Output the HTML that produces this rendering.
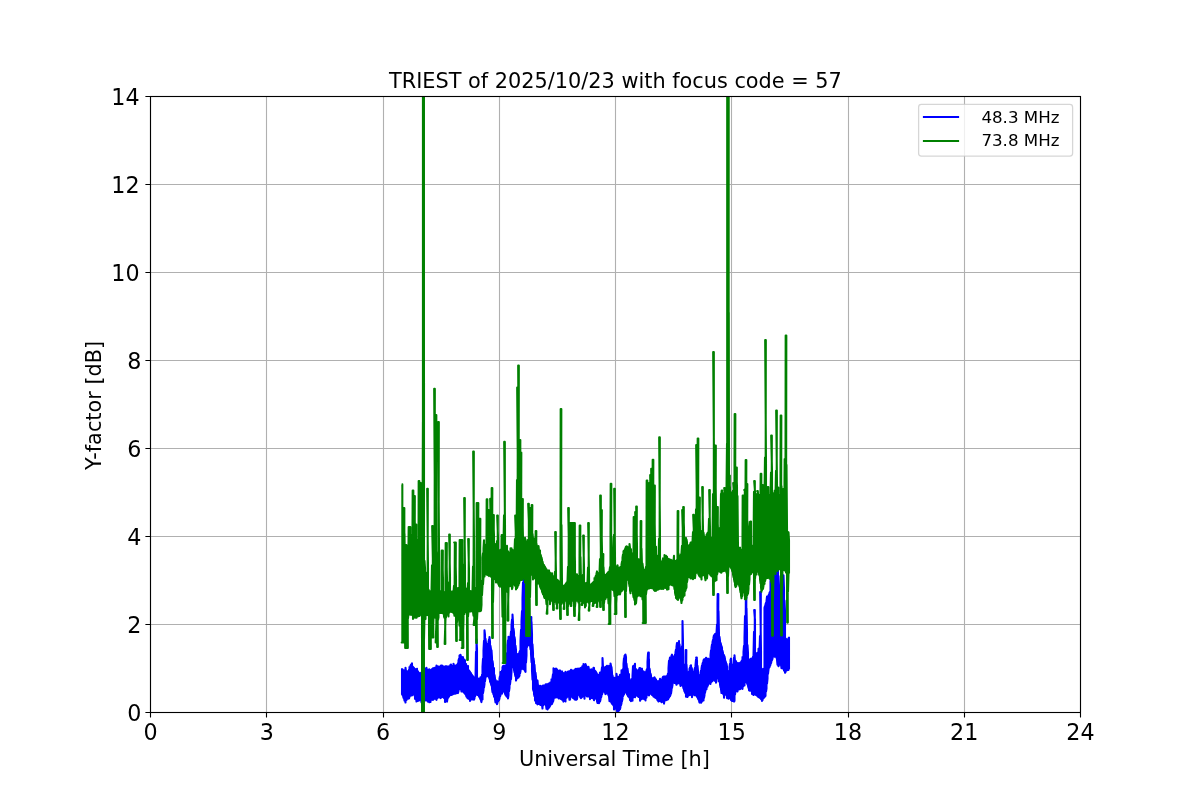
<!DOCTYPE html>
<html><head><meta charset="utf-8"><title>TRIEST of 2025/10/23 with focus code = 57</title>
<style>html,body{margin:0;padding:0;background:#fff;}svg{display:block;}text{font-family:'DejaVu Sans','Liberation Sans',sans-serif;fill:#000;}</style></head><body>
<svg width="1200" height="800" viewBox="0 0 1200 800">
<rect x="0" y="0" width="1200" height="800" fill="#fff"/>
<defs><clipPath id="ax"><rect x="150" y="96" width="930" height="616"/></clipPath></defs>
<path d="M150.50,712.5 V96.5 M266.50,712.5 V96.5 M383.50,712.5 V96.5 M499.50,712.5 V96.5 M615.50,712.5 V96.5 M731.50,712.5 V96.5 M848.50,712.5 V96.5 M964.50,712.5 V96.5 M1080.50,712.5 V96.5 M150.5,712.50 H1080.5 M150.5,624.50 H1080.5 M150.5,536.50 H1080.5 M150.5,448.50 H1080.5 M150.5,360.50 H1080.5 M150.5,272.50 H1080.5 M150.5,184.50 H1080.5 M150.5,96.50 H1080.5" stroke="#b0b0b0" stroke-width="1.11" fill="none"/>
<path d="M150.50,712.5 V717.6 M266.50,712.5 V717.6 M383.50,712.5 V717.6 M499.50,712.5 V717.6 M615.50,712.5 V717.6 M731.50,712.5 V717.6 M848.50,712.5 V717.6 M964.50,712.5 V717.6 M1080.50,712.5 V717.6 M150.5,712.50 H145.4 M150.5,624.50 H145.4 M150.5,536.50 H145.4 M150.5,448.50 H145.4 M150.5,360.50 H145.4 M150.5,272.50 H145.4 M150.5,184.50 H145.4 M150.5,96.50 H145.4" stroke="#000" stroke-width="1.11" fill="none"/>
<g clip-path="url(#ax)" fill="none" stroke-width="2.08" stroke-linejoin="round" stroke-linecap="butt">
<path d="M402.00,668.2 L402.00,694.1 L402.50,694.9 L402.50,669.4 L403.00,670.7 L403.00,695.5 L403.50,697.8 L403.50,670.9 L404.00,670.3 L404.00,697.8 L404.50,700.5 L404.50,670.3 L405.00,670.5 L405.00,699.4 L405.50,702.5 L405.50,667.7 L406.00,671.5 L406.00,700.0 L406.50,699.9 L406.50,672.2 L407.00,672.5 L407.00,698.7 L407.50,698.5 L407.50,671.4 L408.00,672.5 L408.00,698.8 L408.50,698.3 L408.50,671.9 L409.00,669.9 L409.00,698.4 L409.50,696.7 L409.50,667.1 L410.00,667.6 L410.00,695.9 L410.50,695.4 L410.50,665.8 L411.00,664.8 L411.00,695.0 L411.50,693.8 L411.50,664.2 L412.00,663.4 L412.00,695.4 L412.50,693.8 L412.50,666.4 L413.00,667.0 L413.00,693.3 L413.50,694.1 L413.50,667.7 L414.00,668.0 L414.00,694.5 L414.50,695.4 L414.50,668.8 L415.00,669.0 L415.00,698.9 L415.50,699.1 L415.50,669.8 L416.00,670.2 L416.00,698.2 L416.50,701.5 L416.50,670.6 L417.00,668.7 L417.00,697.9 L417.50,697.6 L417.50,671.0 L418.00,671.5 L418.00,700.9 L418.50,698.9 L418.50,672.2 L419.00,673.0 L419.00,700.4 L419.50,699.5 L419.50,673.0 L420.00,673.4 L420.00,699.2 L420.50,699.4 L420.50,673.2 L421.00,673.2 L421.00,699.8 L421.50,702.3 L421.50,672.6 L422.00,672.5 L422.00,699.0 L422.50,699.2 L422.50,671.9 L423.00,671.5 L423.00,699.0 L423.50,698.8 L423.50,670.8 L424.00,670.1 L424.00,699.4 L424.50,699.6 L424.50,668.6 L425.00,670.9 L425.00,699.4 L425.50,699.0 L425.50,668.9 L426.00,670.8 L426.00,700.6 L426.50,698.9 L426.50,667.9 L427.00,670.6 L427.00,698.4 L427.50,698.5 L427.50,670.2 L428.00,670.1 L428.00,701.7 L428.50,698.6 L428.50,669.7 L429.00,669.5 L429.00,698.8 L429.50,702.3 L429.50,669.4 L430.00,670.3 L430.00,699.0 L430.50,701.9 L430.50,670.6 L431.00,670.4 L431.00,699.7 L431.50,699.6 L431.50,669.8 L432.00,669.1 L432.00,699.7 L432.50,699.7 L432.50,668.8 L433.00,668.3 L433.00,699.9 L433.50,699.3 L433.50,668.4 L434.00,668.1 L434.00,698.4 L434.50,698.5 L434.50,668.1 L435.00,667.7 L435.00,698.7 L435.50,698.1 L435.50,668.2 L436.00,667.9 L436.00,698.6 L436.50,699.9 L436.50,665.5 L437.00,666.5 L437.00,698.4 L437.50,697.6 L437.50,666.3 L438.00,666.7 L438.00,697.7 L438.50,697.4 L438.50,666.6 L439.00,666.8 L439.00,697.3 L439.50,697.0 L439.50,667.0 L440.00,666.7 L440.00,696.7 L440.50,698.1 L440.50,666.9 L441.00,665.5 L441.00,697.7 L441.50,696.8 L441.50,666.1 L442.00,665.6 L442.00,696.6 L442.50,697.1 L442.50,665.9 L443.00,666.4 L443.00,696.9 L443.50,697.2 L443.50,666.6 L444.00,666.5 L444.00,698.1 L444.50,697.9 L444.50,666.7 L445.00,666.8 L445.00,702.0 L445.50,698.2 L445.50,666.5 L446.00,666.2 L446.00,701.3 L446.50,698.3 L446.50,666.2 L447.00,666.6 L447.00,701.6 L447.50,698.3 L447.50,666.6 L448.00,666.9 L448.00,697.9 L448.50,697.3 L448.50,666.8 L449.00,666.4 L449.00,696.3 L449.50,695.6 L449.50,666.1 L450.00,665.8 L450.00,694.8 L450.50,695.0 L450.50,664.7 L451.00,664.6 L451.00,695.0 L451.50,695.0 L451.50,666.3 L452.00,665.9 L452.00,694.1 L452.50,694.4 L452.50,665.9 L453.00,666.0 L453.00,694.2 L453.50,693.9 L453.50,663.8 L454.00,666.3 L454.00,693.6 L454.50,693.1 L454.50,666.1 L455.00,665.8 L455.00,693.7 L455.50,693.2 L455.50,665.7 L456.00,665.6 L456.00,693.4 L456.50,693.1 L456.50,665.5 L457.00,664.8 L457.00,692.3 L457.50,692.2 L457.50,664.5 L458.00,663.2 L458.00,693.1 L458.50,690.9 L458.50,660.6 L459.00,658.7 L459.00,689.5 L459.50,688.6 L459.50,655.5 L460.00,656.0 L460.00,687.4 L460.50,688.8 L460.50,654.8 L461.00,656.7 L461.00,689.0 L461.50,691.5 L461.50,657.1 L462.00,657.2 L462.00,689.8 L462.50,690.8 L462.50,658.4 L463.00,657.1 L463.00,691.5 L463.50,691.8 L463.50,659.9 L464.00,661.6 L464.00,692.5 L464.50,693.3 L464.50,659.6 L465.00,660.7 L465.00,693.2 L465.50,694.3 L465.50,663.9 L466.00,663.9 L466.00,695.1 L466.50,696.7 L466.50,666.7 L467.00,667.1 L467.00,697.1 L467.50,698.1 L467.50,668.4 L468.00,665.9 L468.00,698.5 L468.50,698.4 L468.50,670.2 L469.00,670.4 L469.00,698.9 L469.50,698.8 L469.50,671.2 L470.00,671.8 L470.00,701.0 L470.50,699.0 L470.50,672.9 L471.00,673.1 L471.00,698.8 L471.50,699.3 L471.50,674.2 L472.00,675.0 L472.00,698.8 L472.50,699.5 L472.50,675.9 L473.00,676.3 L473.00,699.4 L473.50,699.5 L473.50,677.0 L474.00,678.0 L474.00,699.7 L474.50,698.2 L474.50,678.8 L475.00,679.2 L475.00,696.3 L475.50,695.0 L475.50,679.3 L476.00,651.8 L476.00,693.5 L476.50,694.1 L476.50,639.3 L477.00,649.4 L477.00,694.4 L477.50,695.0 L477.50,679.2 L478.00,678.5 L478.00,695.1 L478.50,695.4 L478.50,678.6 L479.00,678.8 L479.00,696.5 L479.50,697.3 L479.50,679.9 L480.00,680.5 L480.00,698.2 L480.50,699.4 L480.50,677.4 L481.00,681.1 L481.00,700.7 L481.50,702.1 L481.50,681.5 L482.00,674.7 L482.00,698.8 L482.50,699.5 L482.50,666.5 L483.00,658.8 L483.00,693.2 L483.50,690.2 L483.50,650.4 L484.00,640.7 L484.00,687.7 L484.50,684.1 L484.50,630.4 L485.00,634.9 L485.00,681.5 L485.50,677.2 L485.50,638.7 L486.00,643.2 L486.00,675.5 L486.50,676.3 L486.50,646.7 L487.00,650.5 L487.00,674.7 L487.50,675.5 L487.50,643.8 L488.00,644.5 L488.00,675.8 L488.50,676.8 L488.50,641.9 L489.00,639.4 L489.00,677.0 L489.50,679.0 L489.50,637.1 L490.00,641.8 L490.00,681.4 L490.50,682.5 L490.50,645.9 L491.00,649.4 L491.00,683.9 L491.50,685.8 L491.50,650.2 L492.00,657.9 L492.00,688.5 L492.50,692.0 L492.50,661.0 L493.00,664.4 L493.00,692.3 L493.50,694.5 L493.50,667.7 L494.00,668.2 L494.00,696.5 L494.50,697.3 L494.50,675.0 L495.00,678.5 L495.00,699.0 L495.50,702.4 L495.50,679.9 L496.00,681.4 L496.00,699.8 L496.50,700.6 L496.50,682.5 L497.00,683.4 L497.00,704.2 L497.50,702.6 L497.50,681.4 L498.00,684.8 L498.00,701.5 L498.50,700.7 L498.50,685.7 L499.00,683.5 L499.00,700.3 L499.50,698.3 L499.50,678.5 L500.00,676.2 L500.00,696.7 L500.50,694.9 L500.50,672.0 L501.00,673.4 L501.00,694.0 L501.50,692.7 L501.50,672.2 L502.00,670.6 L502.00,693.6 L502.50,689.4 L502.50,667.1 L503.00,666.1 L503.00,688.5 L503.50,689.6 L503.50,665.9 L504.00,665.6 L504.00,690.8 L504.50,692.3 L504.50,666.1 L505.00,665.8 L505.00,693.7 L505.50,694.9 L505.50,665.9 L506.00,665.3 L506.00,695.3 L506.50,696.3 L506.50,659.0 L507.00,653.0 L507.00,696.9 L507.50,697.1 L507.50,645.0 L508.00,640.4 L508.00,698.4 L508.50,695.0 L508.50,636.8 L509.00,639.1 L509.00,691.4 L509.50,687.9 L509.50,637.8 L510.00,637.0 L510.00,684.3 L510.50,680.1 L510.50,637.0 L511.00,631.5 L511.00,679.2 L511.50,671.9 L511.50,625.6 L512.00,619.6 L512.00,667.6 L512.50,663.3 L512.50,614.5 L513.00,622.6 L513.00,665.3 L513.50,667.6 L513.50,628.6 L514.00,632.3 L514.00,669.7 L514.50,672.3 L514.50,637.0 L515.00,640.2 L515.00,674.4 L515.50,676.5 L515.50,645.7 L516.00,650.1 L516.00,680.6 L516.50,678.3 L516.50,653.7 L517.00,657.5 L517.00,678.0 L517.50,678.2 L517.50,657.1 L518.00,655.5 L518.00,677.6 L518.50,677.5 L518.50,653.7 L519.00,653.6 L519.00,676.6 L519.50,675.7 L519.50,652.2 L520.00,650.8 L520.00,673.4 L520.50,671.2 L520.50,640.9 L521.00,629.8 L521.00,669.3 L521.50,666.4 L521.50,621.1 L522.00,611.1 L522.00,663.9 L522.50,664.6 L522.50,598.1 L523.00,582.5 L523.00,669.1 L523.50,667.3 L523.83,578.0 L523.17,578.0 L524.00,584.1 L524.00,668.7 L524.50,669.7 L524.50,602.0 L525.00,608.2 L525.00,670.8 L525.50,671.9 L525.50,614.2 L526.00,619.8 L526.00,662.7 L526.50,655.4 L526.50,626.1 L527.00,626.5 L527.00,647.0 L527.50,644.3 L527.50,626.6 L528.00,625.0 L528.00,644.4 L528.50,644.4 L528.50,628.0 L529.00,628.7 L529.00,645.2 L529.50,645.0 L529.50,626.0 L530.00,623.9 L530.00,644.5 L530.50,649.3 L530.50,621.3 L530.67,617.0 L531.33,617.0 L531.00,653.8 L531.50,662.2 L531.50,621.7 L532.00,634.4 L532.00,670.8 L532.50,679.8 L532.50,644.3 L533.00,652.7 L533.00,689.0 L533.50,691.0 L533.50,658.2 L534.00,662.0 L534.00,694.0 L534.50,696.2 L534.50,664.7 L535.00,672.1 L535.00,700.2 L535.50,701.1 L535.50,672.7 L536.00,677.0 L536.00,703.1 L536.50,702.9 L536.50,679.5 L537.00,681.4 L537.00,703.1 L537.50,704.4 L537.50,680.5 L538.00,686.6 L538.00,703.6 L538.50,703.3 L538.50,685.4 L539.00,686.9 L539.00,703.9 L539.50,704.0 L539.50,686.7 L540.00,686.4 L540.00,704.5 L540.50,705.0 L540.50,685.9 L541.00,686.6 L541.00,704.6 L541.50,704.9 L541.50,686.9 L542.00,686.7 L542.00,704.9 L542.50,708.5 L542.50,686.0 L543.00,685.5 L543.00,705.5 L543.50,704.9 L543.50,685.6 L544.00,686.0 L544.00,704.6 L544.50,704.4 L544.50,686.0 L545.00,685.3 L545.00,704.1 L545.50,704.2 L545.50,684.6 L546.00,684.2 L546.00,705.0 L546.50,708.8 L546.50,684.9 L547.00,685.0 L547.00,706.5 L547.50,709.4 L547.50,684.4 L548.00,684.5 L548.00,708.5 L548.50,708.3 L548.50,683.8 L549.00,683.6 L549.00,707.5 L549.50,706.9 L549.50,683.2 L550.00,683.0 L550.00,705.9 L550.50,705.0 L550.50,682.3 L551.00,682.3 L551.00,704.1 L551.50,703.4 L551.50,679.2 L552.00,681.7 L552.00,703.9 L552.50,701.9 L552.50,677.8 L553.00,674.2 L553.00,701.9 L553.50,699.5 L553.50,668.2 L554.00,670.4 L554.00,698.0 L554.50,697.7 L554.50,670.2 L555.00,669.1 L555.00,694.4 L555.50,695.2 L555.50,669.0 L556.00,668.5 L556.00,697.6 L556.50,695.7 L556.50,669.0 L557.00,669.5 L557.00,696.3 L557.50,696.3 L557.50,670.2 L558.00,670.6 L558.00,697.5 L558.50,698.3 L558.50,670.9 L559.00,671.2 L559.00,698.2 L559.50,698.1 L559.50,672.0 L560.00,670.4 L560.00,697.7 L560.50,698.7 L560.50,672.8 L561.00,672.5 L561.00,698.9 L561.50,699.0 L561.50,672.2 L562.00,671.4 L562.00,699.7 L562.50,699.6 L562.50,672.5 L563.00,672.8 L563.00,700.1 L563.50,701.6 L563.50,673.1 L564.00,673.3 L564.00,698.6 L564.50,698.6 L564.50,673.2 L565.00,673.2 L565.00,699.5 L565.50,701.4 L565.50,671.8 L566.00,673.2 L566.00,697.7 L566.50,697.8 L566.50,673.6 L567.00,673.1 L567.00,697.1 L567.50,696.5 L567.50,672.3 L568.00,671.5 L568.00,696.0 L568.50,695.7 L568.50,671.7 L569.00,671.4 L569.00,695.8 L569.50,699.8 L569.50,671.4 L570.00,671.7 L570.00,699.6 L570.50,696.7 L570.50,672.0 L571.00,669.7 L571.00,696.6 L571.50,696.7 L571.50,670.7 L572.00,670.5 L572.00,696.5 L572.50,696.8 L572.50,670.6 L573.00,670.9 L573.00,697.9 L573.50,698.0 L573.50,670.7 L574.00,670.3 L574.00,698.3 L574.50,699.3 L574.50,670.2 L575.00,669.7 L575.00,699.2 L575.50,699.6 L575.50,668.9 L576.00,669.0 L576.00,698.8 L576.50,699.7 L576.50,668.9 L577.00,668.8 L577.00,699.0 L577.50,695.3 L577.50,668.8 L578.00,668.6 L578.00,694.8 L578.50,694.1 L578.50,668.9 L579.00,668.9 L579.00,694.5 L579.50,695.3 L579.50,668.5 L580.00,668.8 L580.00,696.5 L580.50,697.6 L580.50,668.9 L581.00,667.8 L581.00,698.2 L581.50,697.6 L581.50,667.8 L582.00,667.1 L582.00,697.1 L582.50,696.0 L582.50,666.0 L583.00,666.1 L583.00,695.7 L583.50,694.7 L583.50,664.0 L584.00,665.4 L584.00,694.9 L584.50,698.7 L584.50,664.8 L585.00,664.7 L585.00,695.7 L585.50,695.6 L585.50,664.1 L586.00,665.6 L586.00,695.3 L586.50,695.8 L586.50,666.3 L587.00,667.8 L587.00,696.4 L587.50,696.4 L587.50,669.0 L588.00,669.8 L588.00,695.8 L588.50,695.7 L588.50,666.9 L589.00,669.9 L589.00,696.5 L589.50,696.0 L589.50,669.9 L590.00,669.9 L590.00,699.2 L590.50,695.7 L590.50,669.9 L591.00,669.6 L591.00,695.1 L591.50,697.9 L591.50,669.2 L592.00,669.7 L592.00,693.7 L592.50,694.4 L592.50,669.4 L593.00,670.4 L593.00,698.4 L593.50,698.8 L593.50,667.7 L594.00,667.9 L594.00,700.3 L594.50,696.8 L594.50,670.4 L595.00,670.7 L595.00,697.6 L595.50,697.6 L595.50,671.2 L596.00,672.1 L596.00,698.5 L596.50,699.1 L596.50,672.8 L597.00,674.1 L597.00,701.1 L597.50,703.0 L597.50,674.8 L598.00,674.9 L598.00,700.6 L598.50,700.5 L598.50,675.8 L599.00,675.6 L599.00,703.2 L599.50,701.1 L599.50,674.8 L600.00,672.5 L600.00,701.6 L600.50,699.6 L600.50,674.8 L601.00,673.4 L601.00,697.6 L601.50,695.8 L601.50,671.7 L602.00,667.3 L602.00,694.5 L602.50,692.8 L602.50,658.0 L603.00,667.1 L603.00,691.1 L603.50,691.2 L603.50,671.3 L604.00,671.0 L604.00,691.6 L604.50,691.6 L604.50,670.8 L605.00,667.3 L605.00,692.4 L605.50,694.1 L605.50,666.8 L606.00,669.5 L606.00,693.4 L606.50,693.4 L606.50,668.8 L607.00,665.7 L607.00,693.0 L607.50,693.6 L607.50,668.9 L608.00,669.0 L608.00,693.5 L608.50,695.4 L608.50,668.3 L609.00,665.9 L609.00,696.1 L609.50,701.1 L609.50,666.9 L610.00,665.8 L610.00,700.3 L610.50,701.0 L610.50,663.5 L611.00,666.0 L611.00,701.7 L611.50,702.7 L611.50,667.1 L612.00,672.6 L612.00,703.7 L612.50,704.3 L612.50,675.4 L613.00,677.9 L613.00,704.5 L613.50,705.4 L613.50,678.1 L614.00,678.1 L614.00,709.5 L614.50,706.8 L614.50,677.8 L615.00,677.9 L615.00,707.2 L615.50,708.5 L615.50,678.0 L616.00,677.3 L616.00,708.4 L616.50,709.5 L616.50,673.8 L617.00,677.4 L617.00,711.1 L617.50,711.8 L617.50,677.4 L618.00,677.1 L618.00,714.0 L618.50,710.4 L618.50,676.9 L619.00,676.8 L619.00,710.3 L619.50,709.7 L619.50,676.6 L620.00,674.7 L620.00,709.2 L620.50,706.8 L620.50,675.1 L621.00,674.9 L621.00,705.3 L621.50,703.2 L621.50,670.4 L622.00,672.9 L622.00,701.3 L622.50,698.6 L622.50,671.6 L623.00,669.1 L623.00,696.2 L623.50,694.6 L623.50,663.8 L624.00,658.2 L624.00,694.3 L624.50,691.5 L624.50,656.0 L625.00,655.0 L625.00,689.5 L625.50,691.1 L625.50,654.6 L626.00,657.1 L626.00,692.4 L626.50,692.9 L626.50,663.6 L627.00,668.8 L627.00,694.2 L627.50,695.1 L627.50,668.5 L628.00,672.3 L628.00,696.3 L628.50,696.7 L628.50,674.6 L629.00,674.0 L629.00,696.9 L629.50,697.8 L629.50,678.8 L630.00,681.0 L630.00,700.1 L630.50,698.3 L630.50,680.9 L631.00,681.3 L631.00,701.3 L631.50,699.7 L631.50,681.3 L632.00,678.9 L632.00,700.1 L632.50,700.7 L632.50,675.8 L633.00,666.4 L633.00,697.8 L633.50,697.0 L633.50,665.7 L634.00,665.9 L634.00,696.0 L634.50,695.2 L634.50,667.4 L635.00,663.7 L635.00,697.2 L635.50,694.6 L635.50,668.6 L636.00,669.3 L636.00,694.5 L636.50,694.7 L636.50,670.4 L637.00,670.9 L637.00,695.4 L637.50,695.9 L637.50,670.7 L638.00,670.3 L638.00,696.2 L638.50,697.0 L638.50,669.7 L639.00,669.2 L639.00,697.1 L639.50,697.2 L639.50,668.0 L640.00,668.1 L640.00,700.8 L640.50,697.7 L640.50,668.7 L641.00,669.1 L641.00,698.3 L641.50,699.1 L641.50,669.8 L642.00,668.6 L642.00,698.9 L642.50,698.6 L642.50,671.3 L643.00,671.4 L643.00,698.4 L643.50,698.5 L643.50,671.3 L644.00,672.1 L644.00,699.1 L644.50,699.0 L644.50,672.1 L645.00,672.8 L645.00,698.3 L645.50,700.5 L645.50,673.2 L646.00,671.9 L646.00,696.8 L646.50,697.6 L646.50,670.4 L647.00,669.1 L647.00,693.8 L647.50,694.8 L647.50,662.0 L648.00,653.5 L648.00,691.0 L648.50,691.3 L648.83,652.5 L648.17,652.5 L649.00,660.0 L649.00,695.4 L649.50,692.2 L649.50,668.5 L650.00,671.2 L650.00,692.4 L650.50,692.9 L650.50,673.6 L651.00,675.3 L651.00,693.8 L651.50,694.4 L651.50,677.6 L652.00,679.5 L652.00,694.9 L652.50,695.3 L652.50,679.4 L653.00,678.3 L653.00,695.6 L653.50,696.5 L653.50,678.3 L654.00,677.9 L654.00,696.4 L654.50,697.2 L654.50,677.3 L655.00,678.5 L655.00,697.3 L655.50,697.9 L655.50,679.1 L656.00,679.5 L656.00,698.0 L656.50,698.2 L656.50,680.8 L657.00,681.7 L657.00,698.7 L657.50,700.1 L657.50,681.5 L658.00,681.1 L658.00,700.7 L658.50,701.5 L658.50,681.3 L659.00,681.1 L659.00,701.2 L659.50,700.5 L659.50,681.9 L660.00,678.8 L660.00,700.9 L660.50,700.8 L660.50,682.1 L661.00,682.4 L661.00,701.3 L661.50,702.1 L661.50,680.5 L662.00,679.4 L662.00,701.7 L662.50,701.8 L662.50,678.1 L663.00,676.8 L663.00,701.1 L663.50,702.2 L663.50,676.6 L664.00,676.4 L664.00,703.6 L664.50,700.4 L664.50,676.5 L665.00,677.0 L665.00,700.2 L665.50,700.3 L665.50,676.7 L666.00,676.3 L666.00,700.2 L666.50,699.7 L666.50,676.2 L667.00,676.2 L667.00,699.9 L667.50,699.3 L667.50,675.7 L668.00,673.5 L668.00,699.4 L668.50,698.1 L668.50,668.0 L669.00,660.8 L669.00,697.5 L669.50,696.6 L669.50,660.6 L670.00,657.5 L670.00,696.1 L670.50,694.6 L670.50,659.2 L671.00,658.5 L671.00,693.7 L671.50,690.2 L671.50,655.7 L672.00,654.7 L672.00,687.8 L672.50,684.8 L672.50,657.8 L673.00,656.5 L673.00,682.7 L673.50,682.8 L673.50,659.1 L674.00,659.2 L674.00,682.5 L674.50,682.8 L674.50,657.2 L675.00,654.5 L675.00,682.8 L675.50,683.2 L675.50,652.3 L676.00,649.5 L676.00,682.5 L676.50,684.8 L676.50,646.7 L677.00,643.0 L677.00,682.5 L677.50,683.2 L677.50,645.6 L678.00,643.2 L678.00,683.4 L678.50,683.2 L678.50,644.0 L679.00,641.1 L679.00,682.6 L679.50,682.8 L679.50,644.3 L680.00,649.5 L680.00,683.1 L680.50,685.9 L680.50,659.2 L681.00,663.0 L681.00,683.4 L681.50,684.1 L681.50,661.9 L682.00,646.3 L682.00,684.5 L682.50,685.7 L682.50,621.1 L683.00,642.7 L683.00,686.3 L683.50,688.4 L683.50,664.3 L684.00,669.4 L684.00,689.5 L684.50,691.4 L684.50,668.7 L685.00,666.9 L685.00,692.2 L685.50,693.3 L685.50,657.3 L685.67,650.0 L686.33,650.0 L686.00,696.8 L686.50,695.2 L686.50,664.6 L687.00,673.3 L687.00,695.9 L687.50,697.0 L687.50,673.6 L688.00,675.1 L688.00,695.9 L688.50,695.5 L688.50,673.5 L689.00,671.5 L689.00,695.3 L689.50,694.6 L689.50,668.9 L690.00,667.7 L690.00,694.7 L690.50,694.9 L690.50,665.8 L691.00,665.3 L691.00,695.1 L691.50,694.3 L691.50,667.5 L692.00,669.1 L692.00,697.2 L692.50,693.8 L692.50,671.2 L693.00,673.4 L693.00,693.4 L693.50,693.7 L693.50,673.3 L694.00,671.5 L694.00,693.2 L694.50,695.3 L694.50,669.6 L695.00,667.8 L695.00,695.1 L695.50,693.7 L695.50,665.3 L696.00,659.6 L696.00,694.6 L696.50,695.9 L696.83,657.5 L696.17,657.5 L697.00,660.4 L697.00,696.6 L697.50,697.4 L697.50,665.9 L698.00,671.1 L698.00,698.5 L698.50,699.6 L698.50,676.1 L699.00,680.8 L699.00,700.4 L699.50,702.6 L699.50,678.2 L700.00,674.9 L700.00,701.4 L700.50,702.2 L700.50,673.0 L701.00,670.5 L701.00,702.8 L701.50,702.1 L701.50,668.4 L702.00,665.5 L702.00,701.3 L702.50,700.4 L702.50,663.9 L703.00,662.4 L703.00,700.0 L703.50,700.5 L703.50,660.3 L704.00,659.4 L704.00,697.8 L704.50,695.3 L704.50,659.2 L705.00,659.6 L705.00,692.7 L705.50,690.1 L705.50,659.4 L706.00,657.7 L706.00,687.3 L706.50,689.2 L706.50,659.4 L707.00,659.3 L707.00,686.3 L707.50,686.7 L707.50,658.8 L708.00,658.6 L708.00,685.1 L708.50,683.9 L708.50,658.7 L709.00,660.4 L709.00,682.8 L709.50,682.6 L709.50,662.8 L710.00,659.6 L710.00,682.5 L710.50,683.9 L710.50,655.1 L711.00,650.4 L711.00,682.2 L711.50,681.8 L711.50,647.6 L712.00,644.5 L712.00,681.5 L712.50,680.1 L712.50,641.9 L713.00,639.9 L713.00,679.5 L713.50,678.7 L713.50,637.4 L714.00,635.3 L714.00,677.6 L714.50,680.8 L714.50,635.4 L715.00,634.1 L715.00,679.6 L715.50,679.0 L715.50,634.0 L716.00,633.3 L716.00,682.8 L716.50,681.0 L716.50,633.2 L717.00,624.6 L717.00,679.0 L717.50,677.7 L717.50,603.2 L717.67,594.0 L718.33,594.0 L718.00,676.9 L718.50,676.1 L718.50,611.0 L719.00,635.5 L719.00,681.4 L719.50,681.5 L719.50,636.9 L720.00,641.0 L720.00,684.6 L720.50,687.2 L720.50,642.8 L721.00,644.3 L721.00,689.0 L721.50,693.0 L721.50,646.1 L722.00,647.9 L722.00,690.0 L722.50,692.2 L722.50,650.8 L723.00,652.9 L723.00,693.6 L723.50,694.5 L723.50,654.6 L724.00,655.4 L724.00,697.8 L724.50,693.6 L724.50,656.4 L725.00,659.0 L725.00,694.2 L725.50,694.3 L725.50,661.0 L726.00,662.8 L726.00,694.7 L726.50,695.1 L726.50,663.8 L727.00,666.7 L727.00,698.1 L727.50,696.4 L727.50,670.7 L728.00,674.8 L728.00,697.7 L728.50,698.6 L728.50,675.1 L729.00,671.0 L729.00,698.4 L729.50,697.7 L729.50,667.1 L730.00,663.7 L730.00,698.1 L730.50,698.7 L730.50,659.9 L731.00,658.6 L731.00,700.1 L731.50,700.1 L731.50,664.3 L732.00,668.8 L732.00,700.9 L732.50,700.9 L732.50,673.1 L733.00,667.9 L733.00,700.8 L733.50,700.9 L733.50,663.0 L734.00,657.7 L734.00,701.6 L734.50,700.9 L734.50,655.3 L735.00,661.2 L735.00,694.6 L735.50,690.9 L735.50,662.6 L736.00,661.3 L736.00,689.9 L736.50,689.9 L736.50,665.9 L737.00,665.6 L737.00,690.3 L737.50,691.5 L737.50,665.8 L738.00,662.9 L738.00,689.2 L738.50,688.4 L738.50,664.3 L739.00,663.7 L739.00,689.4 L739.50,688.4 L739.50,663.6 L740.00,662.8 L740.00,689.1 L740.50,688.8 L740.50,662.7 L741.00,662.2 L741.00,688.2 L741.50,688.0 L741.50,661.3 L742.00,660.4 L742.00,688.1 L742.50,688.8 L742.50,657.1 L743.00,658.5 L743.00,686.7 L743.50,684.6 L743.50,651.9 L744.00,645.9 L744.00,682.8 L744.50,685.5 L744.50,637.5 L745.00,616.1 L745.00,680.7 L745.50,681.0 L745.83,597.0 L745.17,597.0 L745.67,597.0 L746.33,597.0 L746.00,681.9 L746.50,682.4 L746.50,608.3 L747.00,632.0 L747.00,682.8 L747.50,684.3 L747.50,645.0 L748.00,653.0 L748.00,685.8 L748.50,687.9 L748.50,659.1 L749.00,665.3 L749.00,690.2 L749.50,690.6 L749.50,662.9 L750.00,660.9 L750.00,689.9 L750.50,690.2 L750.50,659.2 L751.00,658.6 L751.00,690.7 L751.50,691.2 L751.50,659.9 L752.00,661.7 L752.00,694.0 L752.50,692.5 L752.50,659.5 L753.00,656.8 L753.00,694.0 L753.50,695.0 L753.50,655.3 L754.00,631.9 L754.00,693.1 L754.50,693.7 L754.83,610.0 L754.17,610.0 L755.00,620.2 L755.00,693.8 L755.50,694.6 L755.50,652.6 L756.00,653.2 L756.00,694.7 L756.50,695.3 L756.50,653.7 L757.00,653.4 L757.00,695.5 L757.50,696.0 L757.50,653.4 L758.00,652.4 L758.00,696.7 L758.50,697.0 L758.50,648.7 L759.00,652.1 L759.00,697.2 L759.50,697.6 L759.50,651.6 L760.00,636.0 L760.00,697.7 L760.50,698.1 L760.83,592.0 L760.17,592.0 L761.00,650.7 L761.00,698.9 L761.50,699.4 L761.50,669.6 L762.00,670.2 L762.00,700.9 L762.50,700.1 L762.50,669.8 L763.00,668.9 L763.00,698.6 L763.50,698.4 L763.50,668.7 L764.00,668.7 L764.00,697.3 L764.50,697.3 L764.50,607.8 L765.00,606.1 L765.00,696.3 L765.50,696.1 L765.50,604.3 L766.00,602.8 L766.00,691.6 L766.50,688.5 L766.50,601.2 L767.00,596.5 L767.00,683.6 L767.50,678.6 L767.50,598.4 L768.00,597.1 L768.00,674.0 L768.50,669.7 L768.50,595.7 L769.00,594.3 L769.00,667.9 L769.50,667.2 L769.50,592.7 L770.00,591.9 L770.00,665.7 L770.50,664.6 L770.50,580.9 L771.00,578.6 L771.00,663.2 L771.50,661.1 L771.50,576.6 L772.00,574.5 L772.00,660.2 L772.50,658.7 L772.50,572.6 L773.00,571.2 L773.00,656.9 L773.50,656.2 L773.50,569.2 L774.00,566.9 L774.00,656.3 L774.50,656.6 L774.50,566.9 L775.00,563.3 L775.00,656.3 L775.50,655.7 L775.50,563.4 L776.00,566.8 L776.00,656.3 L776.50,657.8 L776.50,566.9 L777.00,566.7 L777.00,659.6 L777.50,664.7 L777.50,566.8 L778.00,563.4 L778.00,664.2 L778.50,666.2 L778.50,576.1 L779.00,585.9 L779.00,664.3 L779.50,664.6 L779.50,587.3 L780.00,588.5 L780.00,664.4 L780.50,664.4 L780.50,587.9 L781.00,590.9 L781.00,664.5 L781.50,668.1 L781.50,587.9 L782.00,585.7 L782.00,666.1 L782.50,667.2 L782.50,583.8 L783.00,581.7 L783.00,668.5 L783.50,669.2 L783.50,575.3 L784.00,589.2 L784.00,670.4 L784.50,671.0 L784.50,600.6 L785.00,611.6 L785.00,672.8 L785.50,672.1 L785.50,642.1 L786.00,638.9 L786.00,670.9 L786.50,670.3 L786.50,640.6 L787.00,640.2 L787.00,670.1 L787.50,670.1 L787.50,639.7 L788.00,639.1 L788.00,669.6 L788.50,669.8 L788.50,638.4 L789.00,637.7 L789.00,669.2" stroke="#0000ff"/>
<path d="M401.67,484.4 L402.33,484.4 L402.33,642.5 L401.67,642.5 L402.17,642.5 L402.83,642.5 L402.50,547.6 L403.00,547.1 L403.33,642.5 L402.67,642.5 L403.17,642.5 L403.83,642.5 L403.50,536.4 L403.67,508.0 L404.33,508.0 L404.33,642.5 L403.67,642.5 L404.50,618.0 L404.50,533.8 L405.00,577.0 L405.00,624.9 L405.17,648.0 L405.83,648.0 L405.50,545.1 L405.67,545.0 L406.33,545.0 L406.33,648.0 L405.67,648.0 L406.17,648.0 L406.83,648.0 L406.50,545.2 L407.00,548.0 L407.33,648.0 L406.67,648.0 L407.17,648.0 L407.83,648.0 L407.50,547.7 L408.00,547.3 L408.00,618.5 L408.50,612.9 L408.50,544.2 L408.67,527.0 L409.33,527.0 L409.00,613.8 L409.50,613.6 L409.83,527.0 L409.17,527.0 L409.67,527.0 L410.33,527.0 L410.00,614.6 L410.50,614.4 L410.50,544.5 L411.00,544.7 L411.00,614.8 L411.50,614.3 L411.83,535.0 L411.17,535.0 L412.00,545.7 L412.00,614.9 L412.50,614.8 L412.50,529.9 L412.67,490.6 L413.33,490.6 L413.00,619.0 L413.50,614.7 L413.50,528.8 L414.00,537.1 L414.00,614.2 L414.50,614.6 L414.83,496.0 L414.17,496.0 L415.00,530.8 L415.00,617.7 L415.50,615.0 L415.50,541.1 L415.67,524.5 L416.33,524.5 L416.00,615.9 L416.50,617.7 L416.50,544.3 L417.00,544.8 L417.00,615.7 L417.50,616.4 L417.83,540.0 L417.17,540.0 L418.00,563.3 L418.00,616.0 L418.50,616.1 L418.50,562.5 L418.67,481.0 L419.33,481.0 L419.00,615.9 L419.50,615.9 L419.50,570.8 L420.00,555.0 L420.00,615.3 L420.50,614.5 L420.83,483.0 L420.17,483.0 L421.00,564.3 L421.00,614.4 L421.50,614.0 L421.50,561.8 L422.00,557.6 L422.00,631.5 L422.17,730.0 L422.83,730.0 L422.50,561.5 L423.00,421.6 L423.33,730.0 L422.67,730.0 L423.17,730.0 L423.83,730.0 L423.83,80.0 L423.17,80.0 L424.00,382.7 L424.00,638.8 L424.50,614.9 L424.50,560.9 L425.00,568.0 L425.00,614.5 L425.50,618.9 L425.50,591.1 L426.00,590.5 L426.00,614.6 L426.50,615.1 L426.50,590.3 L427.00,572.6 L427.00,614.6 L427.50,614.8 L427.83,488.8 L427.17,488.8 L428.00,567.8 L428.00,615.2 L428.50,614.0 L428.50,589.5 L429.00,591.1 L429.00,627.5 L429.17,649.0 L429.83,649.0 L429.50,591.5 L430.00,591.4 L430.33,649.0 L429.67,649.0 L430.17,649.0 L430.83,649.0 L430.50,591.3 L431.00,591.3 L431.00,629.6 L431.50,622.0 L431.50,591.4 L432.00,565.3 L432.33,637.5 L431.67,637.5 L432.17,637.5 L432.83,637.5 L432.83,526.0 L432.17,526.0 L433.00,566.8 L433.33,637.5 L432.67,637.5 L433.50,617.4 L433.50,592.0 L434.00,565.4 L434.00,612.1 L434.50,612.8 L434.83,388.8 L434.17,388.8 L435.00,525.3 L435.00,612.8 L435.50,617.8 L435.50,539.5 L435.67,415.0 L436.33,415.0 L436.33,642.5 L435.67,642.5 L436.50,619.7 L436.50,551.7 L437.00,589.1 L437.00,621.5 L437.17,647.0 L437.83,647.0 L437.50,591.1 L438.00,557.3 L438.00,619.9 L438.50,617.2 L438.83,422.0 L438.17,422.0 L439.00,547.9 L439.00,613.2 L439.50,612.8 L439.50,590.7 L440.00,591.6 L440.00,612.1 L440.50,613.0 L440.50,592.2 L441.00,591.3 L441.00,612.7 L441.50,613.0 L441.50,574.9 L441.67,550.5 L442.33,550.5 L442.00,612.7 L442.50,612.9 L442.83,550.5 L442.17,550.5 L443.00,579.6 L443.00,613.4 L443.50,612.5 L443.50,592.1 L444.00,592.6 L444.00,616.6 L444.50,617.7 L444.50,592.6 L445.00,592.1 L445.33,644.0 L444.67,644.0 L445.50,618.2 L445.50,579.9 L445.67,543.0 L446.33,543.0 L446.00,617.3 L446.50,612.6 L446.83,543.0 L446.17,543.0 L447.00,579.2 L447.00,612.9 L447.50,612.7 L447.50,589.9 L448.00,591.4 L448.00,613.0 L448.50,616.4 L448.50,592.1 L449.00,582.4 L449.00,612.8 L449.50,612.2 L449.83,534.5 L449.17,534.5 L450.00,577.1 L450.00,611.7 L450.50,611.6 L450.50,592.6 L451.00,592.0 L451.00,611.2 L451.50,611.8 L451.50,591.9 L452.00,591.4 L452.00,611.4 L452.50,611.9 L452.50,591.6 L453.00,591.4 L453.00,612.4 L453.50,612.9 L453.50,592.4 L454.00,585.9 L454.00,613.0 L454.50,615.7 L454.83,542.5 L454.17,542.5 L454.67,542.5 L455.33,542.5 L455.00,612.9 L455.50,612.7 L455.83,542.5 L455.17,542.5 L456.00,578.5 L456.00,618.7 L456.17,641.0 L456.83,641.0 L456.50,591.1 L457.00,591.1 L457.00,622.2 L457.50,617.1 L457.50,591.2 L458.00,588.0 L458.00,612.8 L458.50,612.4 L458.50,591.0 L459.00,591.5 L459.00,611.8 L459.50,625.7 L459.50,572.7 L459.67,540.0 L460.33,540.0 L460.33,640.0 L459.67,640.0 L460.17,640.0 L460.83,640.0 L460.83,540.0 L460.17,540.0 L460.67,540.0 L461.33,540.0 L461.33,640.0 L460.67,640.0 L461.50,627.3 L461.83,540.0 L461.17,540.0 L461.67,540.0 L462.33,540.0 L462.33,648.0 L461.67,648.0 L462.17,648.0 L462.83,648.0 L462.50,579.7 L463.00,591.3 L463.33,648.0 L462.67,648.0 L463.50,620.4 L463.50,591.7 L464.00,564.5 L464.00,612.8 L464.50,614.0 L464.83,498.0 L464.17,498.0 L465.00,569.8 L465.00,611.3 L465.50,611.4 L465.50,591.1 L466.00,591.0 L466.00,611.7 L466.50,612.3 L466.50,591.5 L467.00,588.4 L467.00,623.8 L467.17,660.0 L467.83,660.0 L467.50,591.5 L468.00,583.1 L468.00,616.7 L468.50,611.5 L468.83,539.0 L468.17,539.0 L469.00,569.9 L469.00,611.5 L469.50,611.4 L469.50,592.4 L470.00,591.8 L470.00,611.1 L470.50,611.0 L470.50,591.1 L471.00,591.6 L471.00,611.5 L471.50,610.7 L471.50,591.8 L472.00,592.6 L472.00,610.8 L472.50,611.3 L472.50,592.1 L473.00,566.5 L473.00,611.7 L473.50,615.7 L473.83,451.5 L473.17,451.5 L474.00,541.0 L474.33,625.0 L473.67,625.0 L474.50,616.5 L474.50,591.0 L475.00,590.9 L475.00,611.6 L475.50,611.7 L475.50,591.2 L476.00,587.9 L476.00,619.2 L476.17,643.0 L476.83,643.0 L476.50,580.8 L476.67,503.0 L477.33,503.0 L477.00,619.5 L477.50,609.9 L477.83,503.0 L477.17,503.0 L477.67,503.0 L478.33,503.0 L478.00,610.4 L478.50,611.1 L478.50,580.2 L479.00,591.5 L479.00,611.3 L479.50,610.8 L479.50,574.5 L479.67,518.8 L480.33,518.8 L480.00,611.2 L480.50,611.1 L480.50,580.5 L481.00,591.5 L481.00,610.6 L481.50,605.0 L481.50,587.6 L482.00,591.1 L482.00,595.2 L482.50,586.3 L482.50,557.5 L483.00,553.2 L483.00,584.5 L483.50,577.1 L483.50,548.6 L484.00,540.2 L484.00,573.7 L484.50,576.6 L484.50,544.2 L485.00,545.0 L485.00,574.2 L485.50,574.2 L485.50,545.8 L486.00,546.4 L486.00,574.4 L486.50,574.6 L486.50,540.7 L486.67,499.4 L487.33,499.4 L487.00,574.4 L487.50,574.7 L487.50,539.9 L488.00,536.3 L488.00,575.2 L488.50,575.2 L488.83,510.0 L488.17,510.0 L489.00,541.8 L489.00,576.1 L489.50,575.1 L489.50,547.8 L490.00,527.6 L490.00,575.3 L490.50,575.5 L490.83,498.8 L490.17,498.8 L491.00,530.6 L491.00,576.7 L491.50,577.0 L491.50,530.1 L491.67,488.0 L492.33,488.0 L492.00,588.0 L492.17,638.0 L492.83,638.0 L492.50,527.3 L493.00,530.7 L493.00,602.3 L493.50,578.1 L493.83,515.0 L493.17,515.0 L494.00,535.5 L494.00,577.9 L494.50,578.5 L494.50,547.4 L495.00,544.0 L495.00,578.2 L495.50,579.5 L495.50,549.1 L496.00,548.7 L496.00,582.5 L496.50,579.8 L496.50,549.8 L497.00,541.0 L497.00,580.9 L497.50,581.8 L497.83,515.6 L497.17,515.6 L498.00,537.4 L498.00,582.7 L498.50,584.4 L498.50,550.2 L499.00,550.7 L499.00,585.7 L499.50,586.1 L499.50,550.6 L500.00,550.3 L500.00,586.7 L500.50,585.7 L500.50,549.8 L501.00,549.6 L501.00,585.9 L501.50,585.4 L501.50,541.0 L501.67,535.0 L502.33,535.0 L502.00,584.4 L502.50,616.7 L502.50,545.0 L503.00,550.0 L503.33,663.0 L502.67,663.0 L503.17,663.0 L503.83,663.0 L503.50,545.3 L504.00,515.4 L504.33,663.0 L503.67,663.0 L504.17,663.0 L504.83,663.0 L504.83,441.9 L504.17,441.9 L505.00,525.3 L505.33,663.0 L504.67,663.0 L505.50,610.4 L505.50,549.9 L506.00,550.1 L506.00,581.9 L506.50,581.0 L506.50,550.4 L507.00,545.9 L507.00,580.6 L507.50,591.9 L507.50,551.0 L508.00,551.3 L508.33,620.6 L507.67,620.6 L508.50,589.8 L508.50,552.3 L509.00,552.8 L509.00,585.2 L509.50,585.2 L509.50,553.2 L510.00,553.0 L510.00,586.2 L510.50,585.2 L510.50,548.2 L511.00,552.0 L511.00,584.9 L511.50,585.0 L511.50,548.2 L512.00,552.3 L512.00,589.1 L512.50,587.2 L512.50,549.8 L513.00,551.0 L513.00,582.5 L513.50,582.6 L513.50,551.4 L514.00,551.3 L514.00,583.6 L514.50,584.7 L514.50,551.0 L515.00,539.1 L515.00,585.3 L515.50,586.4 L515.83,515.6 L515.17,515.6 L516.00,538.6 L516.00,589.5 L516.50,587.8 L516.50,551.1 L517.00,480.1 L517.00,588.1 L517.50,586.9 L517.83,387.5 L517.17,387.5 L518.00,485.8 L518.00,585.9 L518.50,584.9 L518.83,365.6 L518.17,365.6 L519.00,524.7 L519.00,583.5 L519.50,581.1 L519.50,518.9 L519.67,440.0 L520.33,440.0 L520.00,580.0 L520.50,580.1 L520.50,502.0 L520.67,452.5 L521.33,452.5 L521.00,580.0 L521.50,579.3 L521.50,518.3 L522.00,534.9 L522.00,579.9 L522.50,579.3 L522.83,499.0 L522.17,499.0 L523.00,538.9 L523.00,578.8 L523.50,578.6 L523.50,544.6 L524.00,541.9 L524.00,577.9 L524.50,578.0 L524.50,539.6 L525.00,537.7 L525.00,582.4 L525.50,578.0 L525.50,539.4 L526.00,542.7 L526.00,587.2 L526.17,636.0 L526.83,636.0 L526.50,545.1 L527.00,545.2 L527.33,636.0 L526.67,636.0 L527.17,636.0 L527.83,636.0 L527.50,544.9 L528.00,539.8 L528.33,636.0 L527.67,636.0 L528.17,636.0 L528.83,636.0 L528.83,503.8 L528.17,503.8 L529.00,524.6 L529.33,636.0 L528.67,636.0 L529.17,636.0 L529.83,636.0 L529.50,543.0 L530.00,537.8 L530.00,597.3 L530.50,574.9 L530.83,508.0 L530.17,508.0 L531.00,534.0 L531.00,574.1 L531.50,574.7 L531.50,536.5 L531.67,505.0 L532.33,505.0 L532.00,574.7 L532.50,574.4 L532.50,533.8 L533.00,539.0 L533.00,579.4 L533.50,575.0 L533.50,540.9 L534.00,538.6 L534.00,576.0 L534.50,576.1 L534.50,544.3 L535.00,546.4 L535.00,578.5 L535.50,577.9 L535.50,541.5 L535.67,531.0 L536.33,531.0 L536.00,585.3 L536.17,605.0 L536.83,605.0 L536.50,543.7 L537.00,548.9 L537.00,584.1 L537.50,580.8 L537.50,550.3 L538.00,550.0 L538.00,581.6 L538.50,582.3 L538.50,546.0 L539.00,551.1 L539.00,583.5 L539.50,584.4 L539.50,552.4 L540.00,550.5 L540.00,586.1 L540.50,587.6 L540.50,554.6 L541.00,556.1 L541.00,588.6 L541.50,589.5 L541.50,557.5 L542.00,559.7 L542.00,591.4 L542.50,592.8 L542.50,561.5 L543.00,564.0 L543.00,594.3 L543.50,594.8 L543.50,564.5 L544.00,565.2 L544.00,596.4 L544.50,597.9 L544.50,566.2 L545.00,566.8 L545.00,598.1 L545.50,598.4 L545.50,567.8 L546.00,569.0 L546.00,598.7 L546.50,604.1 L546.50,569.3 L547.00,570.5 L547.33,613.8 L546.67,613.8 L547.50,605.6 L547.50,570.6 L548.00,571.5 L548.00,599.1 L548.50,599.2 L548.50,571.5 L549.00,570.4 L549.00,599.5 L549.50,599.0 L549.50,572.2 L550.00,572.8 L550.00,604.2 L550.50,600.0 L550.50,573.9 L551.00,573.7 L551.00,600.4 L551.50,600.7 L551.50,575.0 L552.00,573.2 L552.00,599.8 L552.50,600.6 L552.50,575.7 L553.00,576.6 L553.00,603.0 L553.17,610.0 L553.83,610.0 L553.50,577.2 L554.00,577.2 L554.00,602.5 L554.50,600.9 L554.50,576.9 L555.00,571.7 L555.00,601.1 L555.50,601.1 L555.83,532.0 L555.17,532.0 L556.00,573.2 L556.00,601.6 L556.50,604.3 L556.50,579.3 L557.00,579.6 L557.33,608.5 L556.67,608.5 L557.50,602.8 L557.50,580.0 L558.00,580.5 L558.00,602.0 L558.50,602.5 L558.50,581.0 L559.00,582.0 L559.00,601.7 L559.50,602.3 L559.50,583.0 L560.00,584.2 L560.00,607.8 L560.17,619.0 L560.83,619.0 L560.50,551.0 L560.67,409.0 L561.33,409.0 L561.00,604.6 L561.50,601.4 L561.50,525.1 L562.00,585.5 L562.00,601.6 L562.50,600.9 L562.50,585.6 L563.00,586.6 L563.00,601.1 L563.50,603.7 L563.50,585.7 L564.00,585.8 L564.33,609.0 L563.67,609.0 L564.50,602.3 L564.50,585.6 L565.00,585.0 L565.00,600.6 L565.50,600.7 L565.50,584.3 L566.00,583.6 L566.00,600.2 L566.50,600.1 L566.50,582.7 L567.00,582.1 L567.00,602.5 L567.17,615.0 L567.83,615.0 L567.50,581.6 L568.00,566.7 L568.00,606.3 L568.50,602.0 L568.83,508.0 L568.17,508.0 L569.00,549.7 L569.00,602.2 L569.50,601.1 L569.50,579.8 L570.00,571.7 L570.00,603.8 L570.50,601.3 L570.83,523.0 L570.17,523.0 L571.00,560.5 L571.33,606.0 L570.67,606.0 L571.50,603.1 L571.50,567.2 L571.67,523.0 L572.33,523.0 L572.00,600.7 L572.50,600.7 L572.83,523.0 L572.17,523.0 L572.67,523.0 L573.33,523.0 L573.00,599.7 L573.50,600.1 L573.50,558.2 L574.00,568.4 L574.00,606.8 L574.17,616.0 L574.83,616.0 L574.83,523.0 L574.17,523.0 L575.00,564.0 L575.00,606.7 L575.50,601.0 L575.50,574.7 L576.00,574.2 L576.00,600.6 L576.50,600.6 L576.50,575.0 L577.00,574.4 L577.00,600.6 L577.50,599.9 L577.50,575.6 L578.00,576.3 L578.00,600.1 L578.50,602.5 L578.50,577.8 L579.00,578.4 L579.33,620.0 L578.67,620.0 L579.50,607.2 L579.50,559.4 L579.67,525.6 L580.33,525.6 L580.00,599.6 L580.50,599.2 L580.50,557.0 L581.00,581.2 L581.00,599.4 L581.50,601.1 L581.50,582.6 L582.00,582.4 L582.33,605.0 L581.67,605.0 L582.50,601.2 L582.50,582.5 L583.00,574.8 L583.00,603.2 L583.50,599.6 L583.83,535.6 L583.17,535.6 L584.00,565.7 L584.00,600.4 L584.50,600.4 L584.50,583.3 L585.00,583.1 L585.00,607.4 L585.17,606.0 L585.83,606.0 L585.50,583.2 L586.00,583.5 L586.00,601.3 L586.50,601.9 L586.50,583.4 L587.00,582.6 L587.00,598.9 L587.50,598.8 L587.50,582.5 L588.00,567.5 L588.00,599.3 L588.50,602.6 L588.83,523.0 L588.17,523.0 L589.00,572.5 L589.33,610.6 L588.67,610.6 L589.50,604.0 L589.50,584.6 L590.00,584.4 L590.00,602.1 L590.50,599.7 L590.50,585.0 L591.00,584.7 L591.00,599.7 L591.50,600.2 L591.50,584.3 L592.00,583.6 L592.00,601.2 L592.50,601.2 L592.50,582.9 L593.00,582.4 L593.33,606.0 L592.67,606.0 L593.50,600.7 L593.50,582.4 L594.00,581.6 L594.00,600.3 L594.50,603.2 L594.50,578.0 L595.00,578.5 L595.00,600.6 L595.50,601.0 L595.50,576.7 L596.00,575.5 L596.00,601.2 L596.50,603.0 L596.50,573.5 L597.00,571.4 L597.33,607.0 L596.67,607.0 L597.50,602.2 L597.50,572.7 L598.00,574.0 L598.00,600.3 L598.50,600.4 L598.50,575.4 L599.00,575.9 L599.00,600.8 L599.50,599.6 L599.50,573.8 L600.00,559.1 L600.00,600.6 L600.17,607.0 L600.83,607.0 L600.83,495.6 L600.17,495.6 L601.00,560.8 L601.00,600.2 L601.50,598.7 L601.83,510.0 L601.17,510.0 L602.00,550.6 L602.00,598.2 L602.50,598.5 L602.50,564.8 L602.67,554.0 L603.33,554.0 L603.00,600.3 L603.17,610.0 L603.83,610.0 L603.50,567.1 L604.00,575.0 L604.00,603.4 L604.50,599.0 L604.50,575.2 L605.00,575.1 L605.00,598.9 L605.50,598.9 L605.50,575.3 L606.00,575.4 L606.00,597.9 L606.50,596.8 L606.50,574.4 L607.00,573.7 L607.00,596.1 L607.50,594.9 L607.50,573.3 L608.00,572.3 L608.00,594.7 L608.50,603.4 L608.50,572.4 L609.00,571.7 L609.33,624.0 L608.67,624.0 L609.17,624.0 L609.83,624.0 L609.50,570.9 L610.00,567.1 L610.33,624.0 L609.67,624.0 L610.50,597.4 L610.50,532.3 L610.67,483.8 L611.33,483.8 L611.00,589.2 L611.50,589.3 L611.50,537.3 L612.00,563.6 L612.00,588.4 L612.50,589.7 L612.50,562.2 L613.00,562.5 L613.00,590.1 L613.50,590.3 L613.50,563.1 L614.00,534.7 L614.00,589.5 L614.50,596.1 L614.83,488.8 L614.17,488.8 L615.00,556.9 L615.33,614.0 L614.67,614.0 L615.17,614.0 L615.83,614.0 L615.50,566.4 L616.00,566.5 L616.33,614.0 L615.67,614.0 L616.50,599.3 L616.50,567.8 L617.00,568.5 L617.00,592.7 L617.50,595.1 L617.50,565.2 L618.00,568.8 L618.00,593.8 L618.50,594.1 L618.50,569.1 L619.00,568.6 L619.00,594.2 L619.50,593.8 L619.50,568.0 L620.00,567.3 L620.00,594.4 L620.50,591.9 L620.50,566.8 L621.00,566.9 L621.00,591.4 L621.50,590.9 L621.50,564.4 L622.00,561.6 L622.00,590.7 L622.50,590.2 L622.50,557.6 L623.00,554.5 L623.00,589.2 L623.50,588.1 L623.50,551.2 L624.00,550.7 L624.00,586.6 L624.50,585.1 L624.50,550.7 L625.00,549.0 L625.00,590.3 L625.17,617.0 L625.83,617.0 L625.50,548.2 L626.00,546.7 L626.00,591.3 L626.50,580.4 L626.50,546.3 L627.00,547.2 L627.00,579.5 L627.50,577.7 L627.50,546.9 L628.00,547.6 L628.00,576.8 L628.50,580.2 L628.50,547.0 L629.00,547.8 L629.00,583.1 L629.50,586.4 L629.50,544.0 L630.00,547.8 L630.00,590.2 L630.50,593.3 L630.50,550.4 L631.00,549.2 L631.00,590.8 L631.50,588.7 L631.50,553.6 L632.00,555.1 L632.00,590.7 L632.50,590.1 L632.50,557.4 L633.00,553.0 L633.00,593.3 L633.50,597.2 L633.50,552.4 L633.67,517.0 L634.33,517.0 L634.00,597.5 L634.50,600.1 L634.50,541.3 L635.00,547.2 L635.00,604.4 L635.50,599.3 L635.83,512.0 L635.17,512.0 L636.00,542.0 L636.00,603.4 L636.50,597.8 L636.83,506.5 L636.17,506.5 L637.00,545.7 L637.00,596.8 L637.50,596.0 L637.50,559.5 L638.00,559.3 L638.00,595.7 L638.50,595.6 L638.50,559.3 L639.00,559.4 L639.00,595.2 L639.50,593.8 L639.50,561.3 L640.00,562.0 L640.00,593.0 L640.50,596.3 L640.50,558.8 L640.67,521.0 L641.33,521.0 L641.00,593.4 L641.50,595.8 L641.50,548.5 L642.00,566.3 L642.00,592.7 L642.50,599.4 L642.50,563.5 L643.00,567.8 L643.33,623.0 L642.67,623.0 L643.17,623.0 L643.83,623.0 L643.50,569.3 L644.00,570.7 L644.33,623.0 L643.67,623.0 L644.17,623.0 L644.83,623.0 L644.50,572.2 L645.00,572.5 L645.33,623.0 L644.67,623.0 L645.17,623.0 L645.83,623.0 L645.50,570.0 L646.00,566.8 L646.00,594.3 L646.50,590.0 L646.50,554.8 L646.67,480.6 L647.33,480.6 L647.00,589.7 L647.50,589.0 L647.50,540.0 L648.00,551.8 L648.00,588.6 L648.50,588.0 L648.83,486.0 L648.17,486.0 L649.00,542.9 L649.00,588.5 L649.50,588.0 L649.83,483.0 L649.17,483.0 L650.00,535.6 L650.00,588.0 L650.50,587.9 L650.83,475.0 L650.17,475.0 L651.00,534.1 L651.00,587.9 L651.50,588.1 L651.83,468.8 L651.17,468.8 L652.00,530.4 L652.00,587.5 L652.50,587.6 L652.50,537.8 L652.67,459.8 L653.33,459.8 L653.00,587.6 L653.50,589.2 L653.50,536.4 L654.00,528.5 L654.00,589.9 L654.50,590.4 L654.83,485.6 L654.17,485.6 L655.00,543.0 L655.00,590.9 L655.50,590.8 L655.50,547.7 L656.00,546.6 L656.00,590.7 L656.50,589.6 L656.50,556.0 L657.00,555.9 L657.00,589.1 L657.50,588.8 L657.50,557.9 L658.00,555.8 L658.00,589.7 L658.50,588.9 L658.50,560.9 L659.00,538.9 L659.00,589.2 L659.50,588.5 L659.83,437.4 L659.17,437.4 L660.00,538.4 L660.00,588.1 L660.50,588.6 L660.50,561.2 L661.00,561.4 L661.00,589.0 L661.50,588.4 L661.50,561.4 L662.00,561.3 L662.00,588.6 L662.50,588.5 L662.50,561.1 L663.00,558.4 L663.00,589.0 L663.50,588.7 L663.50,560.2 L664.00,560.3 L664.00,587.9 L664.50,587.4 L664.50,555.1 L665.00,559.7 L665.00,587.1 L665.50,587.8 L665.50,559.2 L666.00,555.7 L666.00,587.7 L666.50,586.7 L666.50,558.6 L667.00,556.8 L667.00,589.6 L667.50,585.7 L667.50,558.9 L668.00,558.9 L668.00,584.9 L668.50,589.2 L668.50,558.7 L669.00,559.4 L669.00,585.1 L669.50,584.8 L669.50,559.3 L670.00,559.8 L670.00,584.7 L670.50,584.4 L670.50,560.1 L671.00,559.8 L671.00,584.3 L671.50,584.9 L671.50,560.5 L672.00,560.5 L672.00,585.0 L672.50,585.4 L672.50,560.6 L673.00,560.9 L673.00,584.9 L673.50,584.8 L673.50,561.2 L674.00,555.9 L674.00,585.3 L674.50,589.1 L674.50,561.0 L675.00,560.8 L675.00,592.6 L675.50,595.1 L675.50,561.4 L676.00,561.2 L676.00,598.1 L676.50,597.7 L676.50,560.7 L677.00,559.9 L677.00,599.1 L677.50,599.6 L677.50,546.1 L677.67,511.0 L678.33,511.0 L678.00,599.9 L678.50,597.8 L678.50,553.5 L679.00,558.5 L679.00,595.3 L679.50,593.2 L679.50,557.6 L680.00,557.4 L680.00,595.7 L680.50,598.1 L680.50,556.0 L681.00,554.2 L681.00,599.8 L681.50,603.0 L681.50,552.5 L682.00,545.7 L682.00,601.0 L682.50,599.3 L682.83,510.0 L682.17,510.0 L683.00,536.7 L683.00,597.2 L683.50,595.0 L683.83,507.0 L683.17,507.0 L684.00,528.2 L684.00,593.6 L684.50,595.6 L684.50,542.9 L685.00,540.8 L685.00,591.3 L685.50,590.4 L685.50,539.5 L686.00,537.9 L686.00,588.9 L686.50,587.3 L686.50,539.5 L687.00,542.1 L687.00,582.0 L687.50,579.1 L687.50,544.8 L688.00,547.5 L688.00,576.9 L688.50,576.8 L688.50,547.5 L689.00,546.1 L689.00,576.9 L689.50,577.0 L689.50,545.9 L690.00,544.3 L690.00,577.2 L690.50,578.4 L690.50,542.9 L691.00,542.3 L691.00,578.4 L691.50,577.9 L691.50,542.5 L692.00,542.5 L692.00,577.2 L692.50,576.3 L692.50,541.9 L693.00,532.0 L693.00,579.2 L693.50,576.0 L693.83,514.8 L693.17,514.8 L694.00,534.7 L694.00,573.7 L694.50,573.0 L694.50,542.2 L695.00,542.6 L695.00,578.2 L695.50,573.1 L695.50,538.0 L696.00,509.4 L696.00,573.2 L696.50,571.8 L696.83,445.0 L696.17,445.0 L697.00,515.8 L697.00,571.2 L697.50,571.6 L697.50,529.4 L697.67,438.5 L698.33,438.5 L698.00,572.8 L698.50,574.4 L698.50,514.4 L699.00,530.7 L699.00,575.4 L699.50,576.2 L699.83,497.5 L699.17,497.5 L700.00,528.5 L700.00,576.8 L700.50,576.2 L700.50,540.4 L701.00,540.1 L701.00,575.0 L701.50,579.4 L701.50,539.4 L702.00,530.7 L702.00,573.8 L702.50,575.6 L702.83,487.0 L702.17,487.0 L703.00,528.7 L703.00,573.1 L703.50,573.8 L703.50,532.5 L704.00,536.7 L704.00,574.2 L704.50,575.7 L704.50,537.1 L705.00,537.0 L705.00,577.4 L705.50,580.2 L705.50,537.2 L706.00,537.0 L706.00,575.6 L706.50,574.5 L706.50,535.0 L707.00,534.1 L707.00,578.5 L707.50,572.4 L707.50,533.0 L708.00,532.3 L708.00,571.6 L708.50,572.6 L708.50,534.0 L709.00,518.9 L709.00,573.3 L709.50,573.5 L709.83,490.0 L709.17,490.0 L710.00,528.8 L710.00,574.0 L710.50,575.2 L710.50,537.9 L711.00,538.9 L711.00,575.7 L711.50,576.0 L711.50,539.4 L712.00,537.5 L712.00,576.5 L712.50,576.7 L712.50,540.4 L713.00,494.1 L713.00,580.3 L713.17,595.0 L713.83,595.0 L713.83,352.0 L713.17,352.0 L714.00,458.4 L714.00,579.8 L714.50,577.5 L714.50,536.6 L715.00,505.3 L715.00,581.1 L715.50,578.8 L715.83,445.6 L715.17,445.6 L716.00,508.7 L716.00,578.8 L716.50,580.2 L716.50,534.0 L717.00,526.0 L717.00,574.8 L717.50,572.5 L717.83,507.0 L717.17,507.0 L718.00,530.4 L718.00,571.2 L718.50,568.2 L718.50,528.4 L719.00,533.1 L719.00,571.1 L719.50,570.2 L719.50,532.8 L720.00,527.9 L720.00,571.7 L720.50,572.2 L720.50,522.6 L721.00,493.9 L721.00,572.6 L721.50,572.6 L721.50,492.9 L721.67,490.6 L722.33,490.6 L722.00,571.5 L722.50,571.0 L722.50,493.1 L723.00,493.4 L723.00,571.2 L723.50,570.8 L723.50,493.7 L724.00,493.5 L724.00,570.9 L724.50,570.8 L724.83,488.0 L724.17,488.0 L725.00,492.9 L725.00,569.8 L725.50,569.5 L725.50,494.4 L726.00,493.9 L726.00,568.9 L726.50,572.6 L726.50,489.3 L727.00,443.7 L727.00,572.3 L727.17,593.0 L727.83,593.0 L727.83,80.0 L727.17,80.0 L727.67,80.0 L728.33,80.0 L728.00,576.4 L728.50,566.0 L728.50,312.7 L729.00,490.4 L729.00,566.8 L729.50,563.3 L729.83,475.6 L729.17,475.6 L730.00,488.3 L730.00,563.5 L730.50,566.0 L730.50,492.6 L731.00,493.7 L731.00,567.7 L731.50,568.7 L731.83,492.5 L731.17,492.5 L732.00,495.2 L732.00,570.1 L732.50,571.7 L732.50,495.5 L733.00,490.6 L733.00,574.3 L733.50,577.0 L733.83,483.0 L733.17,483.0 L734.00,493.5 L734.00,579.0 L734.50,581.8 L734.50,463.9 L734.67,414.0 L735.33,414.0 L735.00,585.0 L735.50,587.1 L735.50,485.8 L736.00,484.8 L736.00,586.7 L736.50,585.4 L736.83,467.5 L736.17,467.5 L737.00,486.7 L737.00,584.1 L737.50,583.7 L737.50,496.1 L738.00,549.2 L738.00,582.6 L738.50,582.3 L738.50,549.5 L739.00,549.8 L739.00,584.7 L739.50,586.7 L739.50,548.0 L740.00,547.6 L740.00,589.1 L740.50,592.3 L740.50,549.9 L741.00,549.8 L741.00,595.4 L741.50,598.3 L741.50,549.7 L742.00,550.2 L742.00,596.6 L742.50,595.1 L742.50,536.4 L742.67,495.6 L743.33,495.6 L743.00,592.9 L743.50,590.9 L743.50,497.5 L744.00,496.1 L744.00,589.0 L744.50,591.9 L744.83,490.0 L744.17,490.0 L745.00,489.4 L745.00,599.2 L745.50,598.1 L745.50,491.9 L745.67,460.0 L746.33,460.0 L746.00,599.4 L746.50,597.2 L746.50,486.7 L746.67,484.0 L747.33,484.0 L747.00,595.6 L747.50,594.2 L747.50,521.3 L748.00,549.3 L748.00,593.7 L748.50,589.0 L748.50,549.3 L749.00,549.3 L749.00,584.6 L749.50,579.4 L749.50,528.9 L750.00,521.8 L750.00,574.7 L750.50,574.3 L750.50,521.6 L751.00,521.5 L751.00,573.9 L751.50,573.0 L751.50,545.5 L752.00,545.9 L752.00,572.2 L752.50,571.9 L752.50,549.9 L753.00,550.5 L753.00,571.8 L753.50,572.3 L753.50,550.1 L754.00,491.8 L754.00,583.3 L754.17,600.0 L754.83,600.0 L754.83,481.0 L754.17,481.0 L755.00,491.5 L755.00,578.7 L755.50,572.9 L755.50,494.4 L756.00,494.2 L756.00,572.4 L756.50,574.4 L756.50,494.6 L757.00,494.6 L757.00,571.3 L757.50,571.6 L757.83,491.0 L757.17,491.0 L758.00,492.9 L758.00,571.5 L758.50,571.3 L758.50,494.9 L759.00,495.0 L759.00,574.2 L759.50,575.7 L759.50,516.3 L760.00,495.5 L760.00,579.2 L760.50,583.1 L760.50,490.6 L760.67,473.8 L761.33,473.8 L761.00,587.3 L761.50,591.8 L761.50,488.5 L762.00,493.0 L762.00,590.2 L762.50,587.9 L762.83,485.0 L762.17,485.0 L763.00,493.5 L763.00,588.8 L763.50,585.7 L763.50,495.5 L764.00,495.1 L764.00,584.2 L764.50,583.9 L764.50,494.6 L765.00,457.5 L765.00,581.2 L765.50,579.3 L765.83,340.0 L765.17,340.0 L766.00,463.8 L766.00,578.3 L766.50,577.1 L766.50,495.0 L767.00,492.4 L767.00,577.5 L767.50,578.0 L767.50,492.8 L767.67,487.0 L768.33,487.0 L768.00,577.4 L768.50,576.9 L768.50,494.4 L769.00,496.3 L769.00,577.6 L769.50,578.6 L769.50,495.9 L770.00,495.6 L770.00,578.7 L770.50,578.8 L770.50,495.3 L771.00,472.5 L771.00,579.0 L771.50,582.4 L771.83,435.6 L771.17,435.6 L772.00,471.1 L772.00,590.3 L772.17,635.8 L772.83,635.8 L772.50,495.1 L773.00,494.3 L773.00,599.7 L773.50,572.8 L773.50,495.7 L774.00,493.0 L774.00,572.5 L774.50,571.4 L774.50,494.9 L774.67,490.6 L775.33,490.6 L775.00,571.0 L775.50,573.9 L775.50,495.0 L776.00,470.9 L776.00,569.6 L776.50,569.2 L776.83,410.6 L776.17,410.6 L777.00,484.1 L777.00,568.4 L777.50,570.9 L777.50,493.4 L777.67,487.5 L778.33,487.5 L778.00,568.8 L778.50,569.2 L778.50,494.3 L779.00,496.1 L779.00,569.3 L779.50,569.3 L779.50,495.7 L780.00,496.5 L780.00,569.0 L780.50,569.6 L780.50,473.6 L780.67,415.6 L781.33,415.6 L781.00,578.3 L781.17,635.4 L781.83,635.4 L781.50,486.0 L782.00,497.2 L782.00,589.5 L782.50,569.6 L782.50,493.0 L783.00,495.6 L783.00,569.6 L783.50,569.8 L783.83,489.0 L783.17,489.0 L784.00,491.6 L784.00,569.7 L784.50,570.4 L784.50,480.2 L784.67,459.0 L785.33,459.0 L785.00,570.3 L785.50,570.5 L785.50,476.3 L785.67,335.6 L786.33,335.6 L786.00,572.6 L786.50,571.7 L786.50,464.9 L787.00,526.9 L787.00,591.1 L787.17,622.6 L787.83,622.6 L787.50,531.9 L788.00,535.3 L788.00,591.6 L788.50,574.0 L788.50,532.3 L789.00,540.2 L789.00,573.6" stroke="#008000"/>
<path d="M423.4,90 V560" stroke="#008000" stroke-width="3.0"/>
<path d="M423.0,600 V720" stroke="#008000" stroke-width="3.75"/>
<path d="M727.9,90 V540" stroke="#008000" stroke-width="3.4"/>
</g>
<rect x="150.5" y="96.5" width="930" height="616" fill="none" stroke="#000" stroke-width="1.11"/>
<text x="150.50" y="740" font-size="22.22" text-anchor="middle">0</text>
<text x="266.75" y="740" font-size="22.22" text-anchor="middle">3</text>
<text x="383.00" y="740" font-size="22.22" text-anchor="middle">6</text>
<text x="499.25" y="740" font-size="22.22" text-anchor="middle">9</text>
<text x="615.50" y="740" font-size="22.22" text-anchor="middle">12</text>
<text x="731.75" y="740" font-size="22.22" text-anchor="middle">15</text>
<text x="848.00" y="740" font-size="22.22" text-anchor="middle">18</text>
<text x="964.25" y="740" font-size="22.22" text-anchor="middle">21</text>
<text x="1080.50" y="740" font-size="22.22" text-anchor="middle">24</text>
<text x="141.4" y="721.00" font-size="22.22" text-anchor="end">0</text>
<text x="141.4" y="633.00" font-size="22.22" text-anchor="end">2</text>
<text x="141.4" y="545.00" font-size="22.22" text-anchor="end">4</text>
<text x="141.4" y="457.00" font-size="22.22" text-anchor="end">6</text>
<text x="141.4" y="369.00" font-size="22.22" text-anchor="end">8</text>
<text x="139.6" y="281.00" font-size="22.22" text-anchor="end">10</text>
<text x="139.6" y="193.00" font-size="22.22" text-anchor="end">12</text>
<text x="139.6" y="105.00" font-size="22.22" text-anchor="end">14</text>
<text x="614.4" y="766.3" font-size="20.83" text-anchor="middle">Universal Time [h]</text>
<text transform="translate(101.1,405.4) rotate(-90)" font-size="20.83" text-anchor="middle">Y-factor [dB]</text>
<text x="615.4" y="87.67" font-size="20.83" text-anchor="middle">TRIEST of 2025/10/23 with focus code = 57</text>
<rect x="918.6" y="104.4" width="154" height="51.7" rx="2.8" ry="2.8" fill="#fff" fill-opacity="0.8" stroke="#cccccc" stroke-opacity="0.8" stroke-width="1.25"/>
<path d="M922.9,117 H959.1" stroke="#0000ff" stroke-width="2.08" fill="none"/>
<path d="M922.9,141.05 H959.1" stroke="#008000" stroke-width="2.08" fill="none"/>
<text x="981.4" y="123" font-size="16.67">48.3 MHz</text>
<text x="981.4" y="146" font-size="16.67">73.8 MHz</text>
</svg></body></html>
